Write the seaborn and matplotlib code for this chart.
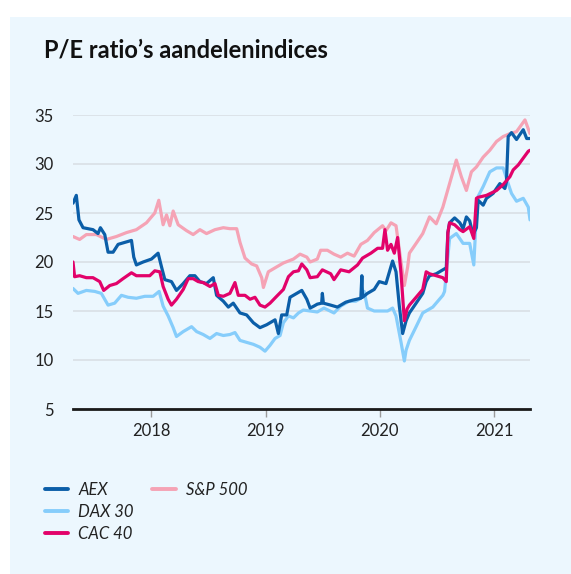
import matplotlib
matplotlib.use("Agg")
import matplotlib.pyplot as plt
import seaborn as sns
import pandas as pd
from matplotlib.lines import Line2D
from matplotlib.patches import Rectangle

# ---- data (x in decimal years) ----
aex_t = [2017.313, 2017.342, 2017.365, 2017.401, 2017.488, 2017.532, 2017.553, 2017.591, 2017.620,
         2017.664, 2017.708, 2017.766, 2017.825, 2017.845, 2017.868, 2017.927, 2018.000, 2018.058,
         2018.088, 2018.117, 2018.175, 2018.219, 2018.278, 2018.336, 2018.380, 2018.424, 2018.482,
         2018.541, 2018.570, 2018.629, 2018.673, 2018.716, 2018.775, 2018.833, 2018.892, 2018.950,
         2019.009, 2019.082, 2019.111, 2019.140, 2019.184, 2019.213, 2019.272, 2019.316, 2019.360,
         2019.389, 2019.422, 2019.452, 2019.490, 2019.496, 2019.505, 2019.569, 2019.628, 2019.701,
         2019.760, 2019.833, 2019.842, 2019.848, 2019.891, 2019.950, 2019.994, 2020.053, 2020.111,
         2020.141, 2020.170, 2020.199, 2020.229, 2020.258, 2020.317, 2020.375, 2020.405, 2020.434,
         2020.493, 2020.551, 2020.581, 2020.595, 2020.610, 2020.654, 2020.700, 2020.728, 2020.757,
         2020.786, 2020.815, 2020.845, 2020.860, 2020.904, 2020.933, 2020.991, 2021.050, 2021.094,
         2021.108, 2021.123, 2021.152, 2021.196, 2021.225, 2021.255, 2021.285, 2021.314]
aex_v = [26.0, 26.8, 24.3, 23.5, 23.3, 22.9, 23.5, 22.8, 21.0,
         21.0, 21.8, 22.0, 22.2, 20.5, 19.7, 20.0, 20.3, 20.9,
         19.5, 18.2, 18.0, 17.1, 17.8, 18.6, 18.6, 18.0, 17.8,
         18.4, 16.6, 16.0, 15.4, 15.8, 14.8, 14.6, 13.8, 13.3,
         13.6, 14.1, 12.7, 14.6, 14.6, 16.4, 16.8, 17.1, 16.2,
         15.3, 15.5, 15.7, 15.8, 16.8, 15.8, 15.6, 15.4, 15.9,
         16.1, 16.3, 18.6, 16.4, 16.8, 17.2, 18.0, 17.8, 20.1,
         19.0, 15.5, 12.7, 14.0, 14.8, 15.8, 16.8, 18.0, 18.6,
         18.8, 19.2, 19.4, 23.0, 24.0, 24.5, 24.0, 23.4, 24.6,
         24.2, 22.8, 23.5, 26.3, 25.8, 26.5, 27.0, 28.0, 27.5,
         28.2, 32.8, 33.2, 32.5, 33.0, 33.5, 32.6, 32.6]

dax_t = [2017.313, 2017.357, 2017.430, 2017.503, 2017.561, 2017.620, 2017.678, 2017.737, 2017.795,
         2017.868, 2017.942, 2018.015, 2018.067, 2018.102, 2018.146, 2018.190, 2018.219, 2018.278,
         2018.351, 2018.395, 2018.453, 2018.512, 2018.570, 2018.629, 2018.687, 2018.731, 2018.775,
         2018.833, 2018.892, 2018.950, 2018.994, 2019.038, 2019.082, 2019.126, 2019.155, 2019.199,
         2019.243, 2019.287, 2019.330, 2019.389, 2019.452, 2019.510, 2019.598, 2019.657, 2019.730,
         2019.789, 2019.833, 2019.862, 2019.891, 2019.950, 2020.009, 2020.067, 2020.111, 2020.141,
         2020.185, 2020.214, 2020.229, 2020.258, 2020.317, 2020.375, 2020.463, 2020.551, 2020.566,
         2020.610, 2020.669, 2020.728, 2020.786, 2020.822, 2020.845, 2020.860, 2020.904, 2020.962,
         2021.021, 2021.079, 2021.123, 2021.152, 2021.196, 2021.255, 2021.299, 2021.314]
dax_v = [17.3, 16.8, 17.1, 17.0, 16.8, 15.6, 15.8, 16.6, 16.4,
         16.3, 16.5, 16.5, 17.0, 15.5, 14.5, 13.3, 12.4, 12.9,
         13.4, 12.9, 12.6, 12.2, 12.7, 12.5, 12.6, 12.8, 12.0,
         11.8, 11.6, 11.3, 10.9, 11.5, 12.2, 12.5, 13.8, 14.5,
         14.3, 14.8, 15.1, 15.0, 14.9, 15.3, 14.8, 15.5, 16.0,
         16.0, 16.3, 17.0, 15.3, 15.0, 15.0, 15.0, 15.3, 14.5,
         11.8, 9.9, 11.0, 12.0, 13.4, 14.8, 15.4, 16.6, 17.0,
         22.4, 22.9, 21.9, 21.9, 19.7, 25.0, 26.7, 27.7, 29.2,
         29.6, 29.6, 28.0, 27.0, 26.2, 26.5, 25.6, 24.3]

cac_t = [2017.313, 2017.327, 2017.371, 2017.430, 2017.488, 2017.547, 2017.582, 2017.635, 2017.693,
         2017.751, 2017.825, 2017.868, 2017.927, 2017.985, 2018.029, 2018.073, 2018.102, 2018.146,
         2018.175, 2018.219, 2018.278, 2018.322, 2018.365, 2018.409, 2018.453, 2018.512, 2018.556,
         2018.585, 2018.629, 2018.687, 2018.731, 2018.760, 2018.819, 2018.863, 2018.906, 2018.950,
         2018.994, 2019.038, 2019.096, 2019.155, 2019.199, 2019.243, 2019.287, 2019.316, 2019.360,
         2019.389, 2019.452, 2019.496, 2019.569, 2019.598, 2019.657, 2019.730, 2019.804, 2019.848,
         2019.921, 2019.980, 2020.023, 2020.044, 2020.067, 2020.097, 2020.126, 2020.155, 2020.185,
         2020.214, 2020.238, 2020.258, 2020.317, 2020.375, 2020.405, 2020.434, 2020.493, 2020.551,
         2020.581, 2020.595, 2020.610, 2020.654, 2020.700, 2020.728, 2020.786, 2020.822, 2020.845,
         2020.860, 2020.933, 2021.021, 2021.079, 2021.138, 2021.167, 2021.211, 2021.255, 2021.299,
         2021.314]
cac_v = [20.0, 18.5, 18.6, 18.4, 18.4, 18.0, 17.1, 17.6, 17.8,
         18.3, 18.9, 18.6, 18.6, 18.6, 19.1, 19.0, 17.5, 16.2,
         15.6, 16.2, 17.2, 18.3, 18.3, 18.0, 17.9, 17.5, 17.8,
         16.6, 16.5, 16.8, 17.9, 16.6, 16.6, 16.2, 16.4, 15.6,
         15.4, 15.8, 16.5, 17.2, 18.5, 19.0, 19.1, 19.8, 19.2,
         18.4, 18.5, 19.2, 18.8, 18.2, 19.2, 19.0, 19.7, 20.4,
         20.9, 21.4, 21.4, 23.3, 21.2, 21.8, 20.9, 22.5, 18.8,
         14.0, 15.2, 15.6, 16.4, 17.2, 19.0, 18.8, 18.6, 18.4,
         18.0, 23.0, 24.0, 23.8, 23.3, 23.1, 23.6, 22.4, 26.5,
         26.6, 26.8, 27.3, 27.9, 28.7, 29.4, 29.9, 30.6, 31.3,
         31.4]

sp_t = [2017.313, 2017.371, 2017.430, 2017.518, 2017.605, 2017.693, 2017.781, 2017.868, 2017.956,
        2018.029, 2018.064, 2018.102, 2018.132, 2018.161, 2018.190, 2018.234, 2018.307, 2018.365,
        2018.424, 2018.482, 2018.556, 2018.629, 2018.687, 2018.746, 2018.775, 2018.819, 2018.877,
        2018.921, 2018.965, 2018.980, 2019.023, 2019.096, 2019.155, 2019.243, 2019.301, 2019.360,
        2019.389, 2019.452, 2019.481, 2019.540, 2019.598, 2019.657, 2019.716, 2019.774, 2019.833,
        2019.891, 2019.950, 2020.023, 2020.053, 2020.097, 2020.141, 2020.185, 2020.214, 2020.243,
        2020.258, 2020.317, 2020.375, 2020.434, 2020.493, 2020.551, 2020.610, 2020.669, 2020.713,
        2020.757, 2020.801, 2020.845, 2020.904, 2020.962, 2021.021, 2021.079, 2021.138, 2021.196,
        2021.270, 2021.314]
sp_v = [22.6, 22.3, 22.8, 22.8, 22.3, 22.6, 23.0, 23.3, 24.0,
        25.0, 26.3, 23.8, 24.8, 23.7, 25.2, 23.8, 23.2, 22.8,
        23.3, 22.9, 23.3, 23.5, 23.4, 23.4, 22.0, 20.4, 19.8,
        19.6, 18.4, 17.4, 19.0, 19.5, 19.9, 20.3, 20.8, 20.5,
        20.0, 20.3, 21.2, 21.2, 20.8, 20.5, 20.9, 20.6, 21.8,
        22.2, 23.0, 23.7, 23.2, 24.0, 23.7, 20.0, 17.6, 19.5,
        20.9, 21.9, 22.9, 24.6, 23.9, 25.6, 28.0, 30.4, 28.7,
        27.3, 29.2, 29.7, 30.7, 31.4, 32.3, 32.8, 33.1, 33.3,
        34.5, 33.1]

series_names = ["AEX", "DAX 30", "CAC 40", "S&P 500"]
year_ticks = [2018, 2019, 2020, 2021]
y_ticks = [5, 10, 15, 20, 25, 30, 35]

colors = {"AEX": "#0b5ea8", "DAX 30": "#86cdfb", "CAC 40": "#e2026a", "S&P 500": "#f5a3b5"}

frames = []
for name, t, v in [("AEX", aex_t, aex_v), ("DAX 30", dax_t, dax_v),
                   ("CAC 40", cac_t, cac_v), ("S&P 500", sp_t, sp_v)]:
    frames.append(pd.DataFrame({"year": t, "pe": v, "index": name}))
df = pd.concat(frames, ignore_index=True)

sns.set_theme(style="white")
plt.rcParams["font.family"] = ["Lato", "DejaVu Sans"]

W, H = 571, 574
fig = plt.figure(figsize=(W / 100, H / 100), dpi=100)
fig.patch.set_facecolor("white")
bg = "#ecf7fe"
fig.patches.append(Rectangle((10 / W, 0), 1 - 10 / W, 1 - 17 / H,
                             transform=fig.transFigure, facecolor=bg,
                             edgecolor="none", zorder=-10))

ax = fig.add_axes([73 / W, 1 - 409 / H, (530 - 73) / W, (409 - 115) / H])
ax.set_zorder(2)
ax.set_facecolor(bg)

draw_order = ["S&P 500", "DAX 30", "AEX", "CAC 40"]
sns.lineplot(data=df, x="year", y="pe", hue="index", hue_order=draw_order,
             palette=colors, linewidth=2.3, legend=False, ax=ax,
             estimator=None, sort=True)

ax.set_xlim(2017.313, 2021.314)
ax.set_ylim(5, 35)
ax.set_yticks(y_ticks)
ax.set_xticks(year_ticks)
ax.set_xticklabels([str(y) for y in year_ticks])
ax.set_xlabel("")
ax.set_ylabel("")
ax.grid(axis="y", color="#d8dde3", linewidth=1.1)
ax.grid(axis="x", visible=False)
for s in ["left", "right", "top"]:
    ax.spines[s].set_visible(False)
ax.spines["bottom"].set_color("#1a1a1a")
ax.spines["bottom"].set_linewidth(2.0)
ax.spines["bottom"].set_zorder(5)
ax.tick_params(axis="y", length=0, pad=14, labelsize=12, labelcolor="#222222")
ax.tick_params(axis="x", length=6, width=1, color="#9a9a9a", pad=4,
               labelsize=12, labelcolor="#222222", direction="out", bottom=True)

fig.text(44 / W, 1 - 50 / H, "P/E ratio’s aandelenindices", fontsize=17,
         fontweight="bold", color="#111111", va="center", ha="left")

handles = [Line2D([], [], color=colors[n], linewidth=2.8) for n in ["AEX", "DAX 30", "CAC 40", "S&P 500"]]
labels = ["AEX", "DAX 30", "CAC 40", "S&P 500"]
blank = Line2D([], [], color="none")
leg = fig.legend(handles + [blank, blank], labels + ["", ""], ncol=2,
                 loc="upper left", bbox_to_anchor=(30 / W, 1 - 467 / H),
                 frameon=False, handlelength=1.4, handletextpad=0.6,
                 columnspacing=1.1, labelspacing=0.35,
                 prop={"style": "italic", "size": 12})
for txt in leg.get_texts():
    txt.set_color("#222222")

fig.savefig("out.png", dpi=100, facecolor="white")
